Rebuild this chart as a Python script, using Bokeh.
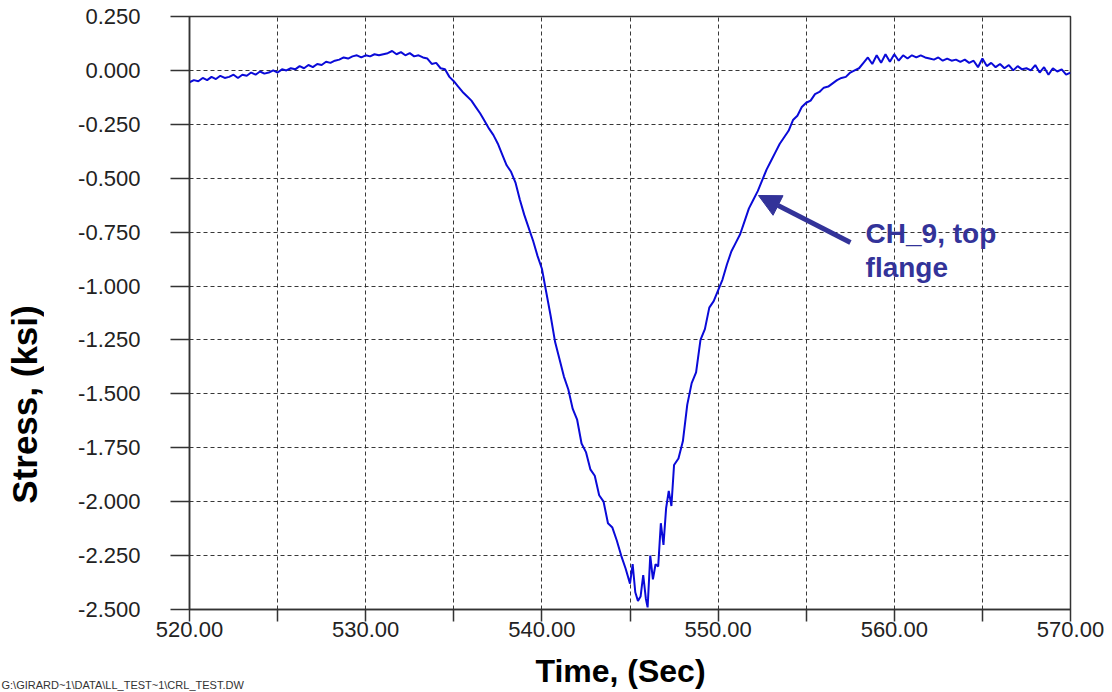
from math import pi
from bokeh.plotting import figure
from bokeh.layouts import column, row
from bokeh.models import (FixedTicker, CustomJSTickFormatter, Label, Arrow,
                          NormalHead, Range1d)
from bokeh.core.properties import value
from bokeh.embed import file_html
from bokeh.resources import INLINE

# ---- data ----
time_s = [
    520.00, 520.25, 520.50, 520.75, 521.00, 521.25, 521.50, 521.75, 522.00, 522.25,
    522.50, 522.75, 523.00, 523.25, 523.50, 523.75, 524.00, 524.25, 524.50, 524.75,
    525.00, 525.25, 525.50, 525.75, 526.00, 526.25, 526.50, 526.75, 527.00, 527.25,
    527.50, 527.75, 528.00, 528.25, 528.50, 528.75, 529.00, 529.25, 529.50, 529.75,
    530.00, 530.25, 530.50, 530.75, 531.00, 531.25, 531.50, 531.75, 532.00, 532.25,
    532.50, 532.75, 533.00, 533.25, 533.50, 533.75, 534.00, 534.25, 534.50, 534.75,
    535.00, 535.25, 535.50, 535.75, 536.00, 536.25, 536.50, 536.75, 537.00, 537.25,
    537.50, 537.75, 538.00, 538.25, 538.50, 538.75, 539.00, 539.25, 539.50, 539.75,
    540.00, 540.25, 540.50, 540.75, 541.00, 541.25, 541.50, 541.75, 542.00, 542.25,
    542.50, 542.75, 543.00, 543.25, 543.50, 543.75, 544.00, 544.25, 544.50, 544.75,
    545.00, 545.15, 545.30, 545.45, 545.60, 545.75, 545.90, 546.00, 546.15, 546.30,
    546.45, 546.60, 546.75, 546.90, 547.05, 547.20, 547.35, 547.50, 547.75, 548.00,
    548.25, 548.50, 548.75, 549.00, 549.25, 549.50, 549.75, 550.00, 550.25, 550.50,
    550.75, 551.00, 551.25, 551.50, 551.75, 552.00, 552.25, 552.50, 552.75, 553.00,
    553.25, 553.50, 553.75, 554.00, 554.25, 554.50, 554.75, 555.00, 555.25, 555.50,
    555.75, 556.00, 556.25, 556.50, 556.75, 557.00, 557.25, 557.50, 557.75, 558.00,
    558.25, 558.50, 558.75, 559.00, 559.25, 559.50, 559.75, 560.00, 560.25, 560.50,
    560.75, 561.00, 561.25, 561.50, 561.75, 562.00, 562.25, 562.50, 562.75, 563.00,
    563.25, 563.50, 563.75, 564.00, 564.25, 564.50, 564.75, 565.00, 565.25, 565.50,
    565.75, 566.00, 566.25, 566.50, 566.75, 567.00, 567.25, 567.50, 567.75, 568.00,
    568.25, 568.50, 568.75, 569.00, 569.25, 569.50, 569.75, 570.00,
]
stress_ksi = [
    -0.055, -0.045, -0.050, -0.035, -0.045, -0.030, -0.040, -0.025, -0.035, -0.030,
    -0.020, -0.035, -0.020, -0.025, -0.010, -0.020, -0.005, -0.015, -0.010, 0.000,
    -0.010, 0.005, 0.000, 0.010, 0.005, 0.020, 0.010, 0.025, 0.015, 0.030,
    0.025, 0.040, 0.035, 0.045, 0.050, 0.060, 0.055, 0.065, 0.070, 0.060,
    0.070, 0.065, 0.075, 0.070, 0.075, 0.080, 0.090, 0.075, 0.085, 0.070,
    0.080, 0.065, 0.070, 0.060, 0.055, 0.030, 0.035, 0.010, 0.005, -0.030,
    -0.050, -0.075, -0.100, -0.120, -0.140, -0.170, -0.200, -0.235, -0.270, -0.300,
    -0.340, -0.390, -0.440, -0.470, -0.520, -0.600, -0.670, -0.730, -0.790, -0.860,
    -0.920, -1.030, -1.140, -1.260, -1.340, -1.420, -1.480, -1.570, -1.620, -1.730,
    -1.770, -1.850, -1.880, -1.970, -2.000, -2.100, -2.120, -2.180, -2.250, -2.310,
    -2.380, -2.290, -2.420, -2.460, -2.440, -2.340, -2.450, -2.490, -2.250, -2.360,
    -2.290, -2.300, -2.100, -2.200, -2.030, -1.950, -2.020, -1.830, -1.800, -1.720,
    -1.550, -1.450, -1.400, -1.250, -1.200, -1.100, -1.070, -1.020, -0.970, -0.900,
    -0.840, -0.800, -0.760, -0.700, -0.640, -0.600, -0.560, -0.510, -0.460, -0.420,
    -0.380, -0.340, -0.310, -0.280, -0.230, -0.210, -0.170, -0.150, -0.140, -0.110,
    -0.100, -0.080, -0.075, -0.060, -0.045, -0.035, -0.030, -0.010, 0.000, 0.010,
    0.035, 0.060, 0.030, 0.070, 0.035, 0.075, 0.040, 0.075, 0.045, 0.070,
    0.055, 0.070, 0.060, 0.070, 0.060, 0.055, 0.050, 0.060, 0.045, 0.055,
    0.045, 0.050, 0.040, 0.050, 0.035, 0.045, 0.015, 0.055, 0.020, 0.035,
    0.015, 0.030, 0.010, 0.025, 0.000, 0.020, 0.005, 0.010, 0.000, 0.025,
    -0.010, 0.015, -0.020, 0.010, -0.005, 0.005, -0.020, -0.010,
]
x_ticks = [520, 525, 530, 535, 540, 545, 550, 555, 560, 565, 570]
y_ticks = [0.25, 0.0, -0.25, -0.5, -0.75, -1.0, -1.25, -1.5, -1.75, -2.0, -2.25, -2.5]

x_label = "Time, (Sec)"
y_label = "Stress, (ksi)"
note_text = "CH_9, top\nflange"
footer_text = "G:\\GIRARD~1\\DATA\\LL_TEST~1\\CRL_TEST.DW"

FONT = "Liberation Sans"
LINE_BLUE = "#0a0ad8"
NOTE_BLUE = "#333399"
AX = "#333333"


def no_align(fig):
    if "frame_align" in fig.properties():
        fig.frame_align = False


# ---- main plot ----
p = figure(width=1060, height=648, output_backend="svg", toolbar_location=None,
           x_range=Range1d(520, 570), y_range=Range1d(-2.5, 0.25),
           min_border_left=145, min_border_right=34, min_border_top=16,
           min_border_bottom=39, background_fill_color="white",
           border_fill_color="white")
no_align(p)

p.outline_line_color = AX
p.outline_line_width = 1.5

p.xgrid.ticker = FixedTicker(ticks=x_ticks)
p.ygrid.ticker = FixedTicker(ticks=y_ticks)
for g in (p.xgrid, p.ygrid):
    g.grid_line_color = "#222222"
    g.grid_line_dash = "4 3"
    g.grid_line_width = 1
    g.grid_line_alpha = 0.9

xa = p.xaxis[0]
xa.ticker = FixedTicker(ticks=x_ticks)
xa.formatter = CustomJSTickFormatter(
    code="return (Math.round(tick) % 10 === 0) ? tick.toFixed(2) : '';")
xa.major_tick_in = 0
xa.major_tick_out = 12
xa.minor_tick_line_color = None
xa.major_label_standoff = 0
xa.major_label_text_font = FONT
xa.major_label_text_font_size = "22px"
xa.major_label_text_color = "#222222"
xa.axis_line_color = AX
xa.axis_line_width = 1.5
xa.major_tick_line_color = AX
xa.major_tick_line_width = 1.5

ya = p.yaxis[0]
ya.ticker = FixedTicker(ticks=y_ticks)
ya.formatter = CustomJSTickFormatter(code="return tick.toFixed(3);")
ya.major_tick_in = 0
ya.major_tick_out = 19
ya.minor_tick_line_color = None
ya.major_label_standoff = 30
ya.major_label_text_font = FONT
ya.major_label_text_font_size = "22px"
ya.major_label_text_color = "#222222"
ya.axis_line_color = AX
ya.axis_line_width = 1.5
ya.major_tick_line_color = AX
ya.major_tick_line_width = 1.5

p.line(time_s, stress_ksi, line_color=LINE_BLUE, line_width=2)

p.add_layout(Arrow(end=NormalHead(size=22, fill_color=NOTE_BLUE,
                                  line_color=NOTE_BLUE),
                   x_start=557.51, y_start=-0.798, x_end=552.29, y_end=-0.580,
                   line_color=NOTE_BLUE, line_width=5))
p.add_layout(Label(x=558.37, y=-0.686, text=note_text, text_font=FONT,
                   text_font_size="28px", text_font_style="bold",
                   text_color=NOTE_BLUE, text_align="left",
                   text_baseline="top", text_line_height=1.1))

# ---- y-axis title strip (left) ----
lf = figure(width=44, height=648, output_backend="svg", toolbar_location=None,
            x_range=Range1d(0, 44), y_range=Range1d(648, 0),
            x_axis_type=None, y_axis_type=None, min_border=0,
            min_border_left=0, min_border_right=0, min_border_top=0,
            min_border_bottom=0, outline_line_color=None)
no_align(lf)
lf.text(x=[24], y=[404], text=[y_label], angle=pi / 2,
        text_font=value(FONT), text_font_size="35px", text_font_style="bold",
        text_color="black", text_align="center", text_baseline="middle")

# ---- x-axis title + footer strip (bottom) ----
bf = figure(width=1104, height=44, output_backend="svg", toolbar_location=None,
            x_range=Range1d(0, 1104), y_range=Range1d(44, 0),
            x_axis_type=None, y_axis_type=None, min_border=0,
            min_border_left=0, min_border_right=0, min_border_top=0,
            min_border_bottom=0, outline_line_color=None)
no_align(bf)
bf.text(x=[620], y=[22], text=[x_label], text_font=value(FONT),
        text_font_size="32px", text_font_style="bold", text_color="black",
        text_align="center", text_baseline="middle")
bf.text(x=[1], y=[36], text=[footer_text], text_font=value(FONT),
        text_font_size="11px", text_color="#333333",
        text_align="left", text_baseline="middle")

layout = column(row(lf, p, spacing=0), bf, spacing=0)

open("out.html", "w").write(file_html(layout, INLINE))
